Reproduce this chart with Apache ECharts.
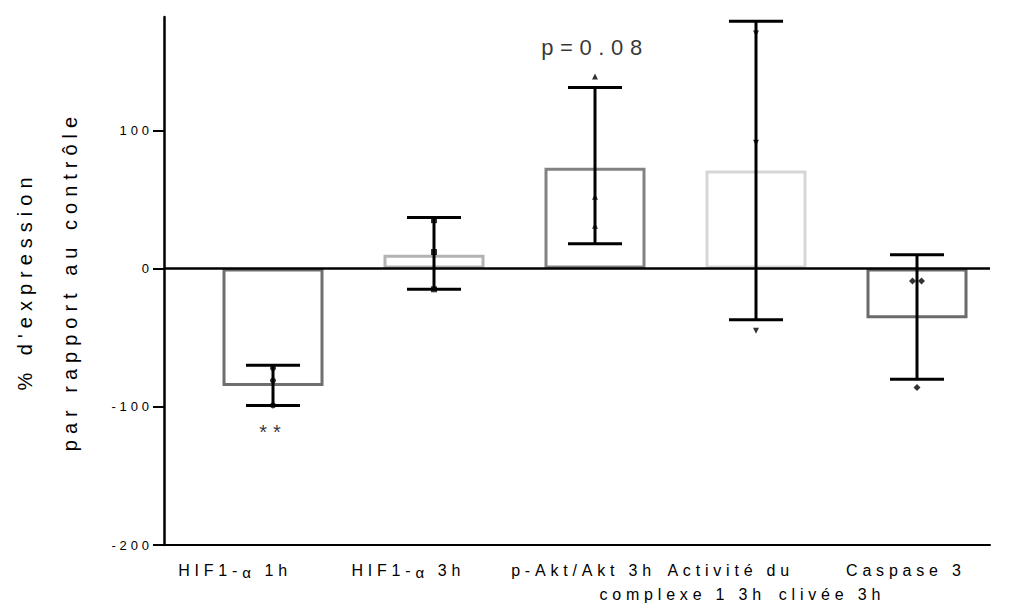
<!DOCTYPE html>
<html>
<head>
<meta charset="utf-8">
<script src="https://cdn.jsdelivr.net/npm/echarts@6/dist/echarts.min.js"></script>
<style>
  html, body { margin: 0; padding: 0; background: #fff; }
  #chart { width: 1013px; height: 610px; }
  #chart svg text { letter-spacing: 0.3em; white-space: pre; }
</style>
</head>
<body>
<div id="chart"></div>
<script>
// ---- data ----
const categories = ['HIF1-α 1h', 'HIF1-α 3h', 'p-Akt/Akt 3h', 'Activité du\ncomplexe 1 3h', 'Caspase 3\nclivée 3h'];
const means   = [-85, 10, 73, 71, -36];
const errLow  = [-99, -15, 18, -37, -80];
const errHigh = [-70, 37, 131, 179, 10];
const pointsHif1h  = [-72, -81, -99];
const pointsHif3h  = [35, 12, -15];
const pointsAkt    = [139, 52, 31];
const pointsCx1    = [170, 91, -45];
const pointsCasp   = [-9, -9, -86];
const yTicks = [-200, -100, 0, 100];
const yMin = -200, yMax = 182;
const annotations = [
  { cat: 0, y: -118, text: '**' },
  { cat: 2, y: 160, text: 'p=0.08' }
];

// ---- style ----
const barColors = ['#6f6f6f', '#b3b3b3', '#828282', '#d6d6d6', '#6a6a6a'];
const font = 'Liberation Sans, Arial, sans-serif';
const LS = 0.3;               // letter spacing (em), same as CSS
const xFont = 16;
// horizontal shift (px) of each label line relative to its tick
const lineShift = [[-26], [-14], [0], [-14, -62], [0, -74]];

const rich = {};
let styleCount = 0;
function tokenStyle(fs, n, padTop) {
  const name = 's' + (styleCount++);
  const p = n * LS * fs / 2;
  rich[name] = { fontSize: fs, fontFamily: font, color: '#000', padding: [padTop || 0, p, 0, p] };
  return name;
}
function gapStyle(w) {
  const name = 'g' + (styleCount++);
  rich[name] = { width: w, fontSize: xFont };
  return name;
}
const labelTexts = categories.map((cat, ci) => {
  return cat.split('\n').map((line, li) => {
    const parts = line.split(/(α)/).filter(s => s.length);
    let out = parts.map(part => {
      const isAlpha = part === 'α';
      const name = isAlpha ? tokenStyle(15, 1, 5) : tokenStyle(xFont, part.length, 0);
      return '{' + name + '|' + part + '}';
    }).join('');
    const s = (lineShift[ci] && lineShift[ci][li]) || 0;
    if (s < 0) out = out + '{' + gapStyle(-2 * s) + '|}';
    if (s > 0) out = '{' + gapStyle(2 * s) + '|}' + out;
    return out;
  }).join('\n');
});

const chart = echarts.init(document.getElementById('chart'), null, { renderer: 'svg' });

const gridTop = 17, gridBottom = 65;
const hiddenY = (idx) => ({
  type: 'value', gridIndex: idx, min: yMin, max: yMax, interval: 100, show: false
});

function pointSeries(vals, catIdx, symbol, size, offsets) {
  return {
    type: 'scatter', xAxisIndex: 1, yAxisIndex: 1, z: 5,
    symbol: symbol, symbolSize: size,
    itemStyle: { color: '#000' },
    data: vals.map((v, k) => ({
      value: [catIdx, v],
      symbolOffset: offsets ? offsets[k] : [0, 0]
    }))
  };
}

const gridBase = { top: gridTop, bottom: gridBottom, containLabel: false, outerBoundsMode: 'none' };

const option = {
  animation: false,
  backgroundColor: '#fff',
  textStyle: { fontFamily: font },
  grid: [
    Object.assign({ left: 164, right: 23 }, gridBase),
    Object.assign({ left: 192.5, right: 15.5 }, gridBase),
    Object.assign({ left: 180.5, right: 26.5 }, gridBase)
  ],
  xAxis: [
    { type: 'category', gridIndex: 0, data: [''],
      axisLine: { onZero: false, lineStyle: { color: '#000', width: 2 } },
      axisTick: { show: false }, axisLabel: { show: false } },
    { type: 'category', gridIndex: 1, data: categories, show: false },
    { type: 'category', gridIndex: 2, data: categories,
      axisLine: { onZero: false, lineStyle: { color: '#000', width: 2 } },
      axisTick: { alignWithLabel: true, length: 6, lineStyle: { color: '#000', width: 2 } },
      axisLabel: { interval: 0, color: '#000', fontSize: xFont, margin: 13, lineHeight: 24,
                   fontFamily: font, rich: rich,
                   formatter: (v, i) => labelTexts[i] } }
  ],
  yAxis: [
    { type: 'value', gridIndex: 0, min: yMin, max: yMax, interval: 100,
      axisLine: { show: true, lineStyle: { color: '#000', width: 2.5 } },
      axisTick: { show: true, length: 11, lineStyle: { color: '#000', width: 2 },
                  customValues: yTicks },
      axisLabel: { color: '#000', fontSize: 13, margin: 11, fontFamily: font, customValues: yTicks },
      splitLine: { show: false },
      name: "% d'expression\npar rapport au contrôle",
      nameLocation: 'middle', nameRotate: 90, nameGap: 72,
      nameTextStyle: { fontSize: 20, color: '#000', lineHeight: 45, fontFamily: font } },
    hiddenY(1),
    hiddenY(2)
  ],
  series: [
    {
      type: 'line', xAxisIndex: 0, yAxisIndex: 0, data: [], z: 4,
      markLine: {
        silent: true, symbol: 'none', label: { show: false },
        lineStyle: { color: '#000', width: 2.5, type: 'solid' },
        data: [{ yAxis: 0 }]
      }
    },
    {
      type: 'bar', xAxisIndex: 1, yAxisIndex: 1, barWidth: 101, z: 2,
      data: means.map((v, i) => ({
        value: v,
        itemStyle: { color: 'rgba(0,0,0,0)', borderColor: barColors[i], borderWidth: 3 }
      }))
    },
    {
      type: 'custom', xAxisIndex: 1, yAxisIndex: 1, z: 4,
      data: categories.map((c, i) => [i, errHigh[i], errLow[i]]),
      renderItem: function (params, api) {
        const hi = api.coord([api.value(0), api.value(1)]);
        const lo = api.coord([api.value(0), api.value(2)]);
        const capHalf = 27;
        const st = { stroke: '#000', lineWidth: 3 };
        return {
          type: 'group',
          children: [
            { type: 'line', shape: { x1: hi[0], y1: hi[1], x2: lo[0], y2: lo[1] }, style: st },
            { type: 'line', shape: { x1: hi[0] - capHalf, y1: hi[1], x2: hi[0] + capHalf, y2: hi[1] }, style: st },
            { type: 'line', shape: { x1: lo[0] - capHalf, y1: lo[1], x2: lo[0] + capHalf, y2: lo[1] }, style: st }
          ]
        };
      }
    },
    pointSeries(pointsHif1h, 0, 'circle', 6),
    pointSeries(pointsHif3h, 1, 'rect', 6),
    pointSeries(pointsAkt, 2, 'triangle', 6),
    pointSeries(pointsCx1, 3, 'path://M0,0 L10,0 L5,9 Z', 6),
    pointSeries(pointsCasp, 4, 'diamond', 7, [[-4.5, 0], [4.5, 0], [0, 0]]),
    {
      type: 'scatter', xAxisIndex: 1, yAxisIndex: 1, z: 6,
      symbolSize: 1, itemStyle: { color: 'rgba(0,0,0,0)' },
      data: annotations.map((a, i) => ({
        value: [a.cat, a.y], name: a.text,
        label: { fontSize: i === 0 ? 20 : 22, color: '#000' }
      })),
      label: {
        show: true, position: 'inside', color: '#000',
        formatter: p => p.name, fontFamily: font
      }
    }
  ]
};

chart.setOption(option);
</script>
</body>
</html>
